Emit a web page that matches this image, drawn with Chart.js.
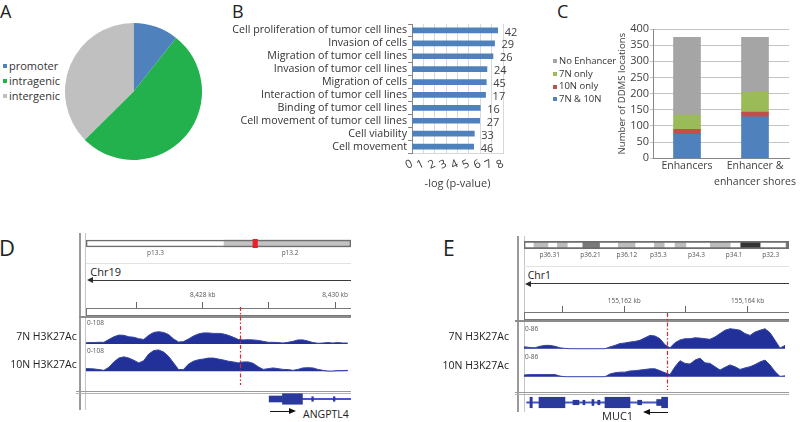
<!DOCTYPE html>
<html><head><meta charset="utf-8">
<script src="https://cdn.jsdelivr.net/npm/chart.js@4"></script>
<style>
html,body{margin:0;padding:0;background:#fff;}
body{width:800px;height:422px;position:relative;overflow:hidden;font-family:'Open Sans',sans-serif;color:#333;}
.a{position:absolute;}
.t{position:absolute;line-height:1;white-space:nowrap;}
canvas{position:absolute;display:block;}
</style></head><body>
<script>
// ===== DATA =====
// Panel A
const pieLabels = ['promoter', 'intragenic', 'intergenic'];
const pieValues = [10.7, 51.9, 37.4];
const pieColors = ['#4f81bd', '#22b14c', '#c0c0c0'];
// Panel B
const pathwayLabels = ['Cell proliferation of tumor cell lines', 'Invasion of cells', 'Migration of tumor cell lines',
  'Invasion of tumor cell lines', 'Migration of cells', 'Interaction of tumor cell lines', 'Binding of tumor cell lines',
  'Cell movement of tumor cell lines', 'Cell viability', 'Cell movement'];
const pathwayLogP = [7.53, 7.26, 7.12, 6.59, 6.53, 6.47, 6.00, 5.95, 5.48, 5.42];
const pathwayGenes = [42, 29, 26, 24, 45, 17, 16, 27, 33, 46];
// Panel C
const enhCategories = [['Enhancers'], ['Enhancer &', 'enhancer shores']];
const enhSeriesNames = ['7N & 10N', '10N only', '7N only', 'No Enhancer'];
const enhBoth = [74, 128];
const enh10Only = [16, 15];
const enh7Only = [44, 61];
const enhNone = [240, 170];
const enhColors = ['#4f81bd', '#c0504d', '#9bbb59', '#a5a5a5'];
// Panel D (chr19, ANGPTL4)
const dBandLabels = ['p13.3', 'p13.2'];
const dBandPos = [26.2, 77.0];
const dIdeoWhite = [[0, 52.1]];
const dIdeoGray = [[52.1, 100]];
const dIdeoRed = [[63.0, 64.7]];
const dRulerTicks = [8427, 8428, 8429, 8430];
const dRulerLabels = ['', '8,428 kb', '', '8,430 kb'];
const dTrackStartKb = 8426.207;
const dTrackBinKb = 0.07515;
const d7N = [4,6,6,7,7,19,30,37,36,30,28,22,19,36,48,51,48,39,21,8,10,21,33,42,46,46,44,44,42,36,28,19,17,18,17,15,11,7,7,6,4,7,11,17,17,12,6,3,4,6,4,6,4,4];
const d10N = [11,11,10,7,4,17,39,55,60,55,46,35,44,72,86,89,80,62,35,7,8,30,42,48,51,55,55,51,47,42,39,35,39,39,33,19,8,11,14,11,8,7,4,8,14,15,14,8,4,1,1,3,3,4];
const dMarkerKb = 8428.56;
const dGeneUtr = [[8428.99, 8429.19]];
const dGeneCds = [[8429.19, 8429.49]];
const dGeneSmall = [[8429.63, 8429.655], [8429.955, 8429.98]];
const dGeneIntron = [[8429.49, 8430.4]];
// Panel E (chr1, MUC1)
const eBandLabels = ['p36.31', 'p36.21', 'p36.12', 'p35.3', 'p34.3', 'p34.1', 'p32.3'];
const eBandPos = [9.7, 25.1, 38.8, 50.7, 65.1, 79.3, 93.1];
const eIdeoLight = [[3.76, 9.03], [12.57, 16.33], [35.6, 41.9], [49.2, 52.9], [57.0, 61.1], [70.3, 77.8]];
const eIdeoDark = [[22.2, 28.5], [98.9, 100]];
const eIdeoBlack = [[81.8, 89.1]];
const eRulerTicks = [155161, 155162, 155163, 155164];
const eRulerLabels = ['', '155,162 kb', '', '155,164 kb'];
const eTrackStartKb = 155160.309;
const eTrackBinKb = 0.08108;
const e7N = [7,6,4,3,8,11,11,8,3,1,0,0,0,0,0,0,0,0,6,11,17,19,22,24,28,36,44,42,33,13,3,20,29,33,33,36,35,33,31,39,50,61,66,64,61,50,44,55,61,66,53,28,2,11];
const e10N = [3,6,7,7,7,7,7,7,2,0,0,0,0,0,0,0,0,0,9,13,15,15,19,20,22,24,26,26,20,13,7,33,53,44,42,55,61,46,44,33,22,31,39,33,24,29,33,40,49,55,39,17,1,3];
const eMarkerKb = 155162.69;
const eGeneCds = [[155160.471, 155160.508], [155160.617, 155161.038], [155161.687, 155162.093], [155162.606, 155162.703]];
const eGeneUtr = [[155161.476, 155161.508], [155162.525, 155162.606]];
const eGeneSmall = [[155161.168, 155161.265], [155161.33, 155161.362], [155161.569, 155161.606], [155162.217, 155162.282]];
const eGeneIntron = [[155160.417, 155162.69]];

// ===== HELPERS =====
Chart.defaults.font.family = "'Open Sans', sans-serif";
Chart.defaults.color = '#404040';
Chart.defaults.animation = false;
Chart.defaults.plugins.legend.display = false;
Chart.defaults.plugins.tooltip.enabled = false;

function mk(left, top, w, h, cfg) {
  const c = document.createElement('canvas');
  c.width = w; c.height = h;
  c.style.left = left + 'px'; c.style.top = top + 'px';
  c.style.width = w + 'px'; c.style.height = h + 'px';
  document.body.appendChild(c);
  cfg.options = Object.assign({responsive: false, animation: false}, cfg.options || {});
  return new Chart(c, cfg);
}
function box(css) { const d = document.createElement('div'); d.className = 'a'; d.style.cssText = css; document.body.appendChild(d); return d; }
function txt(s, css) { const d = document.createElement('div'); d.className = 't'; d.textContent = s; d.style.cssText = css; document.body.appendChild(d); return d; }
function legend(labels, colors, left, c0, step, fs, sq) {
  labels.forEach((l, i) => {
    const c = c0 + i * step;
    box(`left:${left}px;top:${c - sq / 2}px;width:${sq}px;height:${sq}px;background:${colors[i]}`);
    txt(l, `left:${left + sq + 2}px;top:${c - 0.531 * fs}px;font-size:${fs}px;color:#333`);
  });
}
const barValuePlugin = {
  id: 'barValue',
  afterDatasetsDraw(chart, args, o) {
    const meta = chart.getDatasetMeta(0), ctx = chart.ctx;
    ctx.save(); ctx.font = "11px 'Open Sans'"; ctx.fillStyle = '#404040';
    ctx.textBaseline = 'middle'; ctx.textAlign = 'left';
    meta.data.forEach((b, i) => ctx.fillText(String(o.labels[i]), b.x + 7, b.y + 2));
    ctx.restore();
  }
};
const markerPlugin = {
  id: 'marker',
  afterDraw(chart, args, o) {
    const x = Math.round(chart.scales.x.getPixelForValue(o.value)) + 0.5, c = chart.ctx;
    c.save(); c.strokeStyle = '#e3262b'; c.lineWidth = 1.2; c.setLineDash([4, 2, 1.5, 2]);
    c.beginPath(); c.moveTo(x, o.from); c.lineTo(x, o.to); c.stroke(); c.restore();
  }
};
const floatRow = (arr, row) => arr.map(r => ({x: r, y: row}));

// ===== PANEL LETTERS =====
txt('A', 'left:0px;top:2px;font-size:18px;color:#222');
txt('B', 'left:232px;top:2px;font-size:18px;color:#222');
txt('C', 'left:557px;top:2px;font-size:18px;color:#222');
txt('D', 'left:-1px;top:235.5px;font-size:22px;color:#222');
txt('E', 'left:443px;top:238px;font-size:21px;color:#222');

// ===== PANEL A =====
mk(65, 23, 137, 137, {
  type: 'pie',
  data: {labels: pieLabels, datasets: [{data: pieValues, backgroundColor: pieColors, borderWidth: 0}]},
  options: {layout: {padding: 0}}
});
legend(pieLabels, pieColors, 3, 66, 14.8, 11, 4);

// ===== PANEL B =====
mk(220, 0, 300, 200, {
  type: 'bar',
  data: {labels: pathwayLabels, datasets: [{data: pathwayLogP, backgroundColor: '#4f81bd', barThickness: 5}]},
  options: {
    indexAxis: 'y',
    layout: {padding: {top: 24, right: 17, left: 0, bottom: 0}},
    scales: {
      x: {min: 0, max: 8, ticks: {stepSize: 1, padding: 4, font: {size: 11.5}, color: '#404040'},
        grid: {color: '#d9d9d9', drawTicks: false}, border: {color: '#d9d9d9'},
        title: {display: true, text: '-log (p-value)', font: {size: 11}, color: '#404040', padding: {top: 2, bottom: 10}},
        afterFit: s => { s.height = 47; }},
      y: {ticks: {font: {size: 10.7}, color: '#333', padding: 1, autoSkip: false},
        grid: {drawOnChartArea: false, drawTicks: true, tickLength: 4, color: '#868686'},
        border: {color: '#868686'},
        afterFit: s => { s.width = 192; }}
    },
    plugins: {barValue: {labels: pathwayGenes}}
  },
  plugins: [barValuePlugin]
});

// ===== PANEL C =====
mk(610, 0, 190, 200, {
  type: 'bar',
  data: {labels: enhCategories, datasets: [
    {label: enhSeriesNames[0], data: enhBoth, backgroundColor: enhColors[0], barThickness: 27},
    {label: enhSeriesNames[1], data: enh10Only, backgroundColor: enhColors[1], barThickness: 27},
    {label: enhSeriesNames[2], data: enh7Only, backgroundColor: enhColors[2], barThickness: 27},
    {label: enhSeriesNames[3], data: enhNone, backgroundColor: enhColors[3], barThickness: 27}
  ]},
  options: {
    layout: {padding: {top: 29, right: 11, left: 0, bottom: 0}},
    scales: {
      x: {stacked: true, grid: {display: false, drawTicks: false}, border: {color: '#868686'},
        ticks: {font: {size: 10.5, lineHeight: 1.52}, color: '#404040', padding: 0, autoSkip: false, maxRotation: 0, minRotation: 0},
        afterFit: s => { s.height = 41.7; }},
      y: {stacked: true, min: 0, max: 400,
        ticks: {stepSize: 50, autoSkip: false, font: {size: 11}, color: '#404040', padding: 1},
        grid: {color: '#c4c4c4', tickLength: 3}, border: {color: '#868686'},
        title: {display: true, text: 'Number of DDMS locations', font: {size: 9.6}, color: '#404040', padding: {top: 7, bottom: 0}},
        afterFit: s => { s.width = 43; }}
    }
  }
});
legend(enhSeriesNames.slice().reverse(), enhColors.slice().reverse(), 553, 60.7, 12.9, 9.5, 4);

// ===== GENOME PANELS =====
function ideogram(left, top, w, padTop, datasets, pos, labels) {
  mk(left, top, w, 24, {
    type: 'bar',
    data: {labels: ['chr'], datasets},
    options: {
      indexAxis: 'y',
      layout: {padding: {top: padTop, left: 0, right: 0, bottom: 0}},
      scales: {
        x: {type: 'linear', min: 0, max: 100,
          afterBuildTicks: s => { s.ticks = pos.map(v => ({value: v})); },
          ticks: {autoSkip: false, maxRotation: 0, padding: 1, font: {size: 6.5}, color: '#555', callback: (v, i) => labels[i]},
          grid: {display: false, drawTicks: false}, border: {display: false},
          afterFit: s => { s.height = 12; }},
        y: {display: false}
      }
    }
  });
}
function ideoSet(arr, bg, th, extra) {
  return Object.assign({data: floatRow(arr, 'chr'), backgroundColor: bg, barThickness: th, grouped: false, borderWidth: 0, borderSkipped: false}, extra || {});
}
function tracks(left, top, w, h, o) {
  const pts = (s) => s.map((v, i) => ({x: o.start + i * o.bin, y: v}));
  const ds = (s, ax) => ({data: pts(s), yAxisID: ax, fill: 'origin', borderColor: '#3443a6', backgroundColor: '#22319a', borderWidth: 1, pointRadius: 0, tension: 0});
  mk(left, top, w, h, {
    type: 'line',
    data: {datasets: [ds(o.s1, 'y1'), ds(o.s2, 'y2')]},
    options: {
      layout: {padding: 0},
      scales: {
        x: {type: 'linear', position: 'top', min: o.min, max: o.max,
          afterBuildTicks: s => { s.ticks = o.ticks.map(v => ({value: v})); },
          ticks: {autoSkip: false, maxRotation: 0, padding: o.tickPad, font: {size: 6.5}, color: '#555', callback: (v, i) => o.tickLabels[i]},
          grid: {drawOnChartArea: false, drawTicks: true, tickLength: 6, color: '#666'},
          border: {display: false},
          afterFit: s => { s.height = 18; }},
        y1: {display: false, min: o.y1[0], max: o.y1[1]},
        y2: {display: false, min: o.y2[0], max: o.y2[1]}
      },
      plugins: {marker: {value: o.marker, from: o.markFrom, to: o.markTo}}
    },
    plugins: [markerPlugin]
  });
}
function gene(left, top, w, h, min, max, cds, utr, small, intron) {
  const g = (arr, th, bg) => ({data: floatRow(arr, 'g'), backgroundColor: bg, barThickness: th, grouped: false, borderWidth: 0, borderSkipped: false});
  mk(left, top, w, h, {
    type: 'bar',
    data: {labels: ['g'], datasets: [g(cds, 10.5, '#2a3a9c'), g(utr, 6, '#2a3a9c'), g(small, 4.5, '#2a3a9c'), g(intron, 1.2, '#4557c2')]},
    options: {indexAxis: 'y', layout: {padding: 0},
      scales: {x: {type: 'linear', display: false, min, max}, y: {display: false}}}
  });
}
function frame(f) {
  box(`left:${f.v1}px;top:${f.top}px;width:2px;height:${f.bottom - f.top}px;background:#9a9a9a`);
  box(`left:${f.v2}px;top:${f.top}px;width:1px;height:${f.bottom - f.top}px;background:#c6c6c6`);
  box(`left:${f.x0}px;top:${f.light}px;width:${f.x1 - f.x0}px;height:1px;background:#e2e2e2`);
  box(`left:${f.x0 + 4}px;top:${f.arrowY - 0.75}px;width:${f.x1 - f.x0 - 4}px;height:1.5px;background:#3a3a3a`);
  box(`left:${f.x0 + 1}px;top:${f.arrowY - 3}px;width:0;height:0;border-right:6px solid #2a2a2a;border-top:3px solid transparent;border-bottom:3px solid transparent`);
  box(`left:${f.x0}px;top:${f.rulerBox}px;width:${f.x1 - f.x0}px;height:7.5px;box-sizing:border-box;border:1px solid #777;border-right:none`);
  box(`left:${f.thickX}px;top:${f.thick}px;width:${f.x1 - f.thickX}px;height:2px;background:#8c8c8c`);
  box(`left:${f.sepX}px;top:${f.sep}px;width:${f.x1 - f.sepX}px;height:1px;background:#9a9a9a`);
  box(`left:${f.sepX}px;top:${f.sep + 1.8}px;width:${f.x1 - f.sepX}px;height:1px;background:#b4b4b4`);
}

// ---- Panel D ----
frame({v1: 78.5, v2: 85, top: 233, bottom: 410, x0: 86, x1: 351, light: 263, arrowY: 280.3, rulerBox: 308, thick: 315.5, thickX: 79, sep: 391.2, sepX: 76});
ideogram(86, 236, 265, 3, [
  ideoSet(dIdeoRed, '#e8202a', 10),
  ideoSet([[0, 100]], 'rgba(0,0,0,0)', 7, {borderWidth: 1, borderColor: '#6e6e6e'}),
  ideoSet(dIdeoGray, '#c3c3c3', 7),
  ideoSet(dIdeoWhite, '#ffffff', 7)
], dBandPos, dBandLabels);
tracks(86, 290, 265, 102, {start: dTrackStartKb, bin: dTrackBinKb, s1: d7N, s2: d10N, min: 8426.237, max: 8430.220,
  ticks: dRulerTicks, tickLabels: dRulerLabels, tickPad: 3, y1: [-199.4, 149.5], y2: [-86, 263],
  marker: dMarkerKb, markFrom: 17, markTo: 95});
gene(86, 392, 265, 14, 8426.237, 8430.220, dGeneCds, dGeneUtr, dGeneSmall, dGeneIntron);
txt('Chr19', 'left:90.3px;top:266px;font-size:11px;color:#222');
txt('0-108', 'left:87px;top:320.3px;font-size:6.5px;color:#555');
txt('0-108', 'left:87px;top:347.8px;font-size:6.5px;color:#555');
txt('7N H3K27Ac', 'right:723.3px;top:331.1px;font-size:10.5px;color:#222');
txt('10N H3K27Ac', 'right:723.3px;top:359.4px;font-size:10.5px;color:#222');
box('left:270px;top:410.9px;width:20px;height:1.6px;background:#111');
box('left:289px;top:408.2px;width:0;height:0;border-left:7px solid #111;border-top:3.5px solid transparent;border-bottom:3.5px solid transparent');
txt('ANGPTL4', 'left:303px;top:408.7px;font-size:10.5px;color:#222');

// ---- Panel E ----
frame({v1: 517, v2: 524, top: 236, bottom: 412, x0: 524, x1: 789, light: 266, arrowY: 283.7, rulerBox: 312, thick: 319.5, thickX: 515, sep: 392, sepX: 515});
ideogram(524, 238, 265, 2, [
  ideoSet([[0, 100]], 'rgba(0,0,0,0)', 7.4, {borderWidth: 1, borderColor: '#6e6e6e'}),
  ideoSet(eIdeoBlack, '#333333', 7.4),
  ideoSet(eIdeoDark, '#7a7a7a', 7.4),
  ideoSet(eIdeoLight, '#bdbdbd', 7.4),
  ideoSet([[0, 100]], '#ffffff', 7.4)
], eBandPos, eBandLabels);
tracks(524, 294, 265, 98, {start: eTrackStartKb, bin: eTrackBinKb, s1: e7N, s2: e10N, min: 155160.374, max: 155164.671,
  ticks: eRulerTicks, tickLabels: eRulerLabels, tickPad: 1, y1: [-143.2, 121.4], y2: [-50.6, 214.0],
  marker: eMarkerKb, markFrom: 19, markTo: 96});
gene(524, 395, 265, 15, 155160.374, 155164.671, eGeneCds, eGeneUtr, eGeneSmall, eGeneIntron);
txt('Chr1', 'left:527.7px;top:269.8px;font-size:10.5px;color:#222');
txt('0-86', 'left:525px;top:325.8px;font-size:6.5px;color:#555');
txt('0-86', 'left:525px;top:353.5px;font-size:6.5px;color:#555');
txt('7N H3K27Ac', 'right:291px;top:331.1px;font-size:10.5px;color:#222');
txt('10N H3K27Ac', 'right:291px;top:360.4px;font-size:10.5px;color:#222');
box('left:650px;top:411.9px;width:18px;height:1.6px;background:#111');
box('left:643px;top:409.2px;width:0;height:0;border-right:7px solid #111;border-top:3.5px solid transparent;border-bottom:3.5px solid transparent');
txt('MUC1', 'left:602px;top:410.2px;font-size:11px;color:#222');
</script>
</body></html>
